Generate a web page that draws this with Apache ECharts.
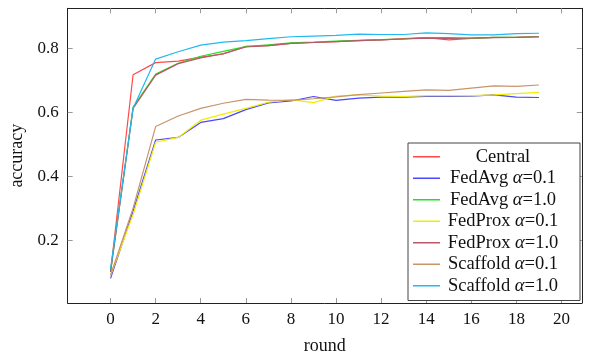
<!DOCTYPE html>
<html>
<head>
<meta charset="utf-8">
<script src="https://cdn.jsdelivr.net/npm/echarts@6/dist/echarts.min.js"></script>
<style>html,body{margin:0;padding:0;background:#fff}#c{width:600px;height:360px}</style>
</head>
<body>
<div id="c"></div>
<script>
const rounds = [0,1,2,3,4,5,6,7,8,9,10,11,12,13,14,15,16,17,18,19];
const central     = [0.10,0.717,0.755,0.760,0.772,0.782,0.806,0.808,0.815,0.818,0.821,0.824,0.826,0.830,0.833,0.826,0.831,0.834,0.834,0.836];
const fedAvg01    = [0.08,0.29,0.513,0.521,0.568,0.580,0.608,0.629,0.635,0.649,0.637,0.644,0.647,0.647,0.649,0.649,0.650,0.654,0.647,0.646];
const fedAvg10    = [0.10,0.616,0.719,0.753,0.775,0.790,0.805,0.811,0.817,0.819,0.822,0.825,0.827,0.829,0.833,0.833,0.831,0.834,0.834,0.836];
const fedProx01   = [0.09,0.28,0.506,0.521,0.575,0.594,0.612,0.631,0.639,0.630,0.650,0.654,0.650,0.649,0.652,0.652,0.652,0.654,0.658,0.662];
const fedProx10   = [0.10,0.612,0.716,0.752,0.770,0.783,0.804,0.808,0.815,0.818,0.821,0.824,0.826,0.829,0.832,0.831,0.832,0.833,0.834,0.836];
const scaffold01  = [0.09,0.30,0.555,0.588,0.612,0.628,0.640,0.638,0.637,0.642,0.648,0.655,0.660,0.665,0.670,0.668,0.675,0.682,0.681,0.685];
const scaffold10  = [0.11,0.612,0.766,0.789,0.810,0.819,0.824,0.830,0.836,0.838,0.840,0.844,0.843,0.843,0.848,0.846,0.842,0.842,0.846,0.847];
const xTicks = [0,2,4,6,8,10,12,14,16,18,20];
const yTicks = [0.2,0.4,0.6,0.8];
const seriesNames = ['Central','FedAvg α=0.1','FedAvg α=1.0','FedProx α=0.1','FedProx α=1.0','Scaffold α=0.1','Scaffold α=1.0'];
const seriesData = [central,fedAvg01,fedAvg10,fedProx01,fedProx10,scaffold01,scaffold10];
const colors = ['#ff4848','#4848ff','#22e022','#f4ec00','#b85868','#c89468','#22b8f0'];

const font = 'Liberation Serif';
const chart = echarts.init(document.getElementById('c'));
function mk(pos, labels) {
  return {
    type: 'value', position: pos,
    min: -1.9, max: 20.9,
    axisLine: {show: true, onZero: false, lineStyle: {color: '#222', width: 1}},
    axisTick: {show: true, inside: true, length: 5, customValues: xTicks, lineStyle: {color: '#999'}},
    axisLabel: {show: labels, customValues: xTicks, margin: 8, color: '#111', fontFamily: font, fontSize: 17},
    splitLine: {show: false}
  };
}
function mky(pos, labels) {
  return {
    type: 'value', position: pos,
    min: 0.003, max: 0.925,
    axisLine: {show: true, onZero: false, lineStyle: {color: '#222', width: 1}},
    axisTick: {show: true, inside: true, length: 5, customValues: yTicks, lineStyle: {color: '#999'}},
    axisLabel: {show: labels, customValues: yTicks, margin: 9, color: '#111', fontFamily: font, fontSize: 17,
      formatter: v => v.toFixed(1)},
    splitLine: {show: false}
  };
}
const xa = mk('bottom', true);
xa.name = 'round'; xa.nameLocation = 'middle'; xa.nameGap = 34;
xa.nameTextStyle = {fontFamily: font, fontSize: 18, color: '#111'};
const ya = mky('left', true);
ya.name = 'accuracy'; ya.nameLocation = 'middle'; ya.nameGap = 40;
ya.nameTextStyle = {fontFamily: font, fontSize: 18, color: '#111'};

chart.setOption({
  animation: false,
  backgroundColor: '#fff',
  grid: {left: 67.7, right: 18.2, top: 8.3, bottom: 52.5},
  xAxis: [xa, mk('top', false)],
  yAxis: [ya, mky('right', false)],
  legend: {
    orient: 'vertical', left: 408, top: 143,
    padding: [3, 19, 4, 5], itemGap: 0, itemWidth: 27, itemHeight: 1.5, icon: 'rect',
    itemStyle: {borderWidth: 0},
    backgroundColor: '#fff', borderColor: '#444', borderWidth: 1,
    data: seriesNames,
    formatter: function (name) {
      const i = name.indexOf('α');
      if (i < 0) return '{t|' + name + '}';
      return '{t|' + name.slice(0, i) + '}{a|α}{t|' + name.slice(i + 1) + '}';
    },
    textStyle: {
      fontFamily: font, fontSize: 18.5, color: '#111', width: 116, lineHeight: 21.5,
      rich: {
        t: {fontFamily: font, fontSize: 18.5, color: '#111', lineHeight: 21.5, align: 'center'},
        a: {fontFamily: font, fontSize: 18.5, fontStyle: 'italic', color: '#111', lineHeight: 21.5, align: 'center'}
      }
    }
  },
  series: seriesData.map((d, i) => ({
    name: seriesNames[i], type: 'line', symbol: 'none', showSymbol: false,
    data: rounds.map((r, k) => [r, d[k]]),
    lineStyle: {color: colors[i], width: 1.2},
    itemStyle: {color: colors[i]},
    z: 2 + i
  }))
});
</script>
</body>
</html>
